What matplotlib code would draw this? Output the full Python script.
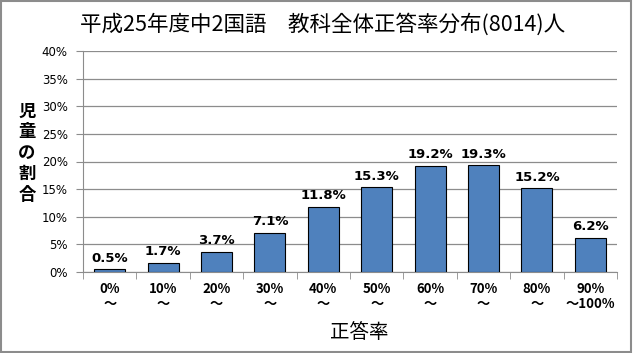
import numpy as np
import matplotlib.pyplot as plt
from matplotlib.patches import Rectangle

plt.rcParams['font.family'] = ['Noto Sans CJK JP', 'DejaVu Sans']

categories = ['0%\n～', '10%\n～', '20%\n～', '30%\n～', '40%\n～',
              '50%\n～', '60%\n～', '70%\n～', '80%\n～', '90%\n～100%']
values = [0.5, 1.7, 3.7, 7.1, 11.8, 15.3, 19.2, 19.3, 15.2, 6.2]
yticks = [0, 5, 10, 15, 20, 25, 30, 35, 40]

fig = plt.figure(figsize=(6.33, 3.53), dpi=100)
ax = fig.add_axes([83 / 633, 1 - 272 / 353, 534 / 633, 221 / 353])

x = np.arange(len(values))
ax.bar(x, values, width=0.58, color='#4F81BD', edgecolor='black', linewidth=0.8, zorder=3)

# データラベル
for xi, v in zip(x, values):
    ax.text(xi, v + 0.8, f'{v}%', ha='center', va='bottom', fontsize=9.5,
            fontweight='bold', family=['DejaVu Sans'])

ax.set_xlim(-0.5, len(values) - 0.5)
ax.set_ylim(0, 40)
ax.set_yticks(yticks)
ax.set_yticklabels([f'{t}%' for t in yticks], fontsize=8.5, family=['DejaVu Sans'])
ax.grid(axis='y', color='#8c8c8c', linewidth=0.9, zorder=0)

ax.set_xticks(x)
ax.set_xticklabels(categories, fontsize=9.5, fontweight='bold', linespacing=1.1)
ax.set_xticks(np.arange(-0.5, len(values)), minor=True)
ax.tick_params(axis='x', which='major', length=0, pad=7)
ax.tick_params(axis='x', which='minor', length=5, color='#8c8c8c', direction='out')
ax.tick_params(axis='y', length=5, color='#8c8c8c', pad=6)

for s in ['top', 'right']:
    ax.spines[s].set_visible(False)
ax.spines['left'].set_color('#8c8c8c')
ax.spines['bottom'].set_color('#8c8c8c')

fig.text(323 / 633, 1 - 24 / 353, '平成25年度中2国語　教科全体正答率分布(8014)人',
         ha='center', va='center', fontsize=15.5)
fig.text(27 / 633, 1 - 153 / 353, '児\n童\nの\n割\n合', ha='center', va='center',
         fontsize=12.5, fontweight='bold', linespacing=1.2)
fig.text(359 / 633, 1 - 332 / 353, '正答率', ha='center', va='center', fontsize=14)

fig.patches.append(Rectangle((0.002, 0.003), 0.995, 0.993, transform=fig.transFigure,
                             fill=False, edgecolor='#8c8c8c', linewidth=1.5))

plt.savefig('out.png', dpi=100)
